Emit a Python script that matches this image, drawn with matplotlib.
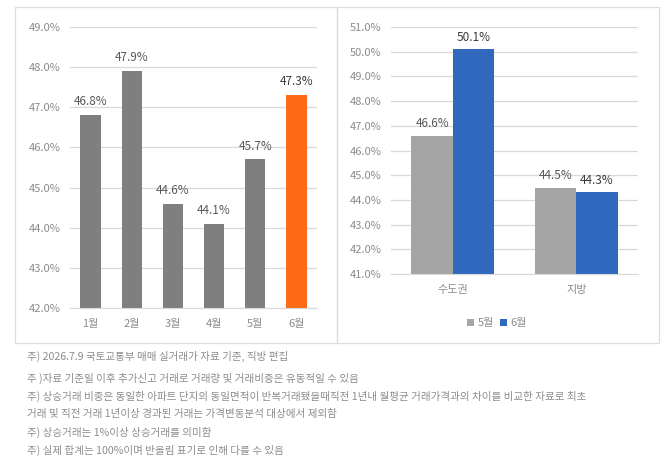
import matplotlib.pyplot as plt
from matplotlib.patches import Rectangle
import numpy as np

plt.rcParams['font.family'] = ['Noto Sans CJK KR', 'DejaVu Sans']

# left chart: monthly share
months = ['1월', '2월', '3월', '4월', '5월', '6월']
month_vals = [46.8, 47.9, 44.6, 44.1, 45.7, 47.3]

# right chart: region, May vs June
regions = ['수도권', '지방']
may_vals = [46.6, 44.5]
jun_vals = [50.1, 44.3]

notes = [
    '주) 2026.7.9 국토교통부 매매 실거래가 자료 기준, 직방 편집',
    '주 )자료 기준일 이후 추가신고 거래로 거래량 및 거래비중은 유동적일 수 있음',
    '주) 상승거래 비중은 동일한 아파트 단지의 동일면적이 반복거래됐을때직전 1년내 월평균 거래가격과의 차이를 비교한 자료로 최초',
    '거래 및 직전 거래 1년이상 경과된 거래는 가격변동분석 대상에서 제외함',
    '주) 상승거래는 1%이상 상승거래를 의미함',
    '주) 실제 합계는 100%이며 반올림 표기로 인해 다를 수 있음',
]

W, H = 670, 462
fig = plt.figure(figsize=(6.7, 4.62), dpi=100)

grid_c = '#d9d9d9'
tick_c = '#8c8c8c'
lab_c = '#595959'
dark_c = '#3a3a3a'

# panel frames
for x0, x1 in [(15, 337), (337, 659)]:
    fig.patches.append(Rectangle((x0 / W, 1 - 343 / H), (x1 - x0) / W, 336 / H,
                                 transform=fig.transFigure, fill=False,
                                 edgecolor='#dcdcdc', linewidth=0.9))


def style(ax, lo, hi):
    ax.set_ylim(lo, hi)
    ax.set_yticks(np.arange(lo, hi + 0.5, 1.0))
    ax.set_yticklabels([f'{v:.1f}%' for v in np.arange(lo, hi + 0.5, 1.0)])
    ax.yaxis.grid(True, color=grid_c, linewidth=0.9)
    ax.set_axisbelow(True)
    for s in ['top', 'right', 'left']:
        ax.spines[s].set_visible(False)
    ax.spines['bottom'].set_color(grid_c)
    ax.tick_params(axis='both', length=0, colors=tick_c, labelsize=8)
    ax.tick_params(axis='y', pad=7)
    ax.tick_params(axis='x', pad=8)


# left
ax1 = fig.add_axes([70 / W, 1 - 308 / H, 247 / W, 281 / H])
x = np.arange(len(months))
colors = ['#7f7f7f'] * 5 + ['#ff6a17']
ax1.bar(x, month_vals, width=0.49, color=colors)
ax1.set_xlim(-0.5, len(months) - 0.5)
ax1.set_xticks(x)
ax1.set_xticklabels(months)
style(ax1, 42, 49)
for i, v in enumerate(month_vals):
    last = i == len(month_vals) - 1
    ax1.annotate(f'{v:.1f}%', (i, v), xytext=(0, 5), textcoords='offset points',
                 ha='center', va='bottom', fontsize=8.5,
                 color=dark_c if last else lab_c,
                 fontweight='medium' if last else 'normal')

# right
ax2 = fig.add_axes([391 / W, 1 - 274 / H, 247 / W, 247 / H])
xr = np.arange(len(regions))
bw = 0.335
ax2.bar(xr - bw / 2, may_vals, width=bw, color='#a5a5a5', label='5월')
ax2.bar(xr + bw / 2, jun_vals, width=bw, color='#2f68bd', label='6월')
ax2.set_xlim(-0.5, len(regions) - 0.5)
ax2.set_xticks(xr)
ax2.set_xticklabels(regions)
style(ax2, 41, 51)
for i, v in enumerate(may_vals):
    ax2.annotate(f'{v:.1f}%', (i - bw / 2, v), xytext=(0, 4), textcoords='offset points',
                 ha='center', va='bottom', fontsize=8.5, color=lab_c)
for i, v in enumerate(jun_vals):
    ax2.annotate(f'{v:.1f}%', (i + bw / 2, v), xytext=(0, 4), textcoords='offset points',
                 ha='center', va='bottom', fontsize=8.5, color=dark_c, fontweight='medium')
leg = ax2.legend(loc='center', bbox_to_anchor=(0.43, -0.2), ncol=2, frameon=False,
                 fontsize=8, handlelength=0.6, handleheight=0.6, handletextpad=0.3,
                 columnspacing=0.6)
for t in leg.get_texts():
    t.set_color(tick_c)

# notes
note_y = [356, 378, 396, 414, 432, 450]
for s, y in zip(notes, note_y):
    fig.text(27 / W, 1 - y / H, s, fontsize=7.6, color='#8c8c8c', va='center', ha='left')

fig.savefig('out.png', dpi=100, facecolor='white')
